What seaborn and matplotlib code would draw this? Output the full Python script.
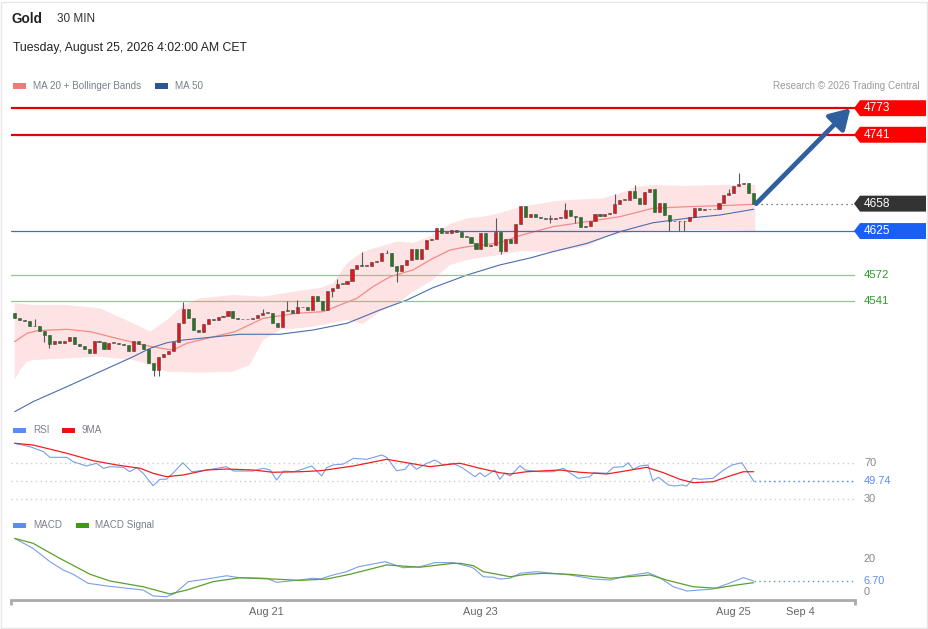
import numpy as np
import matplotlib
matplotlib.use("Agg")
import matplotlib.pyplot as plt
from matplotlib import transforms
from matplotlib.patches import Polygon, Rectangle
import seaborn as sns

sns.set_theme(style="white")
plt.rcParams["font.family"] = ["Liberation Sans", "DejaVu Sans"]

# ---- price data (30 min bars), open = previous close ----
first_open = 4526
closes = [4520, 4518, 4517, 4511, 4510, 4504, 4500, 4488.5, 4492.5, 4490,
          4492.5, 4497.5, 4488.5, 4487, 4482.5, 4478.5, 4493, 4491.5, 4482.5, 4490.5,
          4490.5, 4489, 4488, 4481, 4492.5, 4488.5, 4483, 4465.5, 4457.5, 4473.5,
          4477, 4481, 4491, 4514.5, 4531, 4520.5, 4505.5, 4503.5, 4513, 4519.5,
          4518, 4522, 4522.5, 4529, 4520, 4519, 4518.5, 4518.5, 4520, 4524,
          4526.5, 4526, 4514.5, 4509, 4528.5, 4530, 4526, 4533, 4534, 4530,
          4546.5, 4541, 4530, 4552.5, 4556, 4561, 4561, 4565, 4579, 4583.5,
          4583, 4583, 4588, 4589, 4598, 4599, 4583, 4577, 4583.5, 4590,
          4603, 4591, 4603, 4614, 4615, 4628.5, 4622.5, 4622.5, 4626.5, 4624,
          4618, 4617.5, 4611, 4603.5, 4622.5, 4606.5, 4608, 4624, 4601.5, 4615,
          4610.5, 4633, 4655, 4642.5, 4645.5, 4641.5, 4640.5, 4639.5, 4639.5, 4641,
          4641, 4650.5, 4643, 4641.5, 4630, 4631, 4637, 4645.5, 4643, 4645.5,
          4647, 4657, 4662.5, 4662.5, 4673, 4664.5, 4657, 4671.5, 4675.5, 4647.5,
          4659, 4644.5, 4636.5, 4637.5, 4636.5, 4636.5, 4641.5, 4652.5, 4650.5, 4651,
          4651, 4651.5, 4658.5, 4668.5, 4670.5, 4679.5, 4681.5, 4683, 4670.5, 4658]
wick_high = {4: 4519, 7: 4499.7, 34: 4539.9, 50: 4531, 55: 4541, 57: 4541.9,
             65: 4566.8, 70: 4600.1, 75: 4602.2, 97: 4640.3, 108: 4644.3,
             111: 4659.1, 121: 4669.3, 125: 4680.5, 144: 4675.3, 146: 4695.3}
wick_low = {6: 4491, 7: 4483.7, 28: 4450.3, 29: 4450.3, 64: 4545.2, 77: 4564,
            98: 4597.3, 108: 4634.3, 113: 4634.3, 132: 4625, 134: 4625, 135: 4625}

# ---- overlays ----
ma20_idx = [0, 2.5, 4.5, 10.5, 15.2, 20.6, 25.9, 30.7, 31.9, 34.7, 38.8, 44.4, 50.1,
            56.9, 62.2, 65.6, 69.0, 72.2, 75.7, 80.3, 84.1, 87.8, 91.2, 94.4, 97.8,
            101.9, 108.5, 115.4, 122.0, 128.7, 135.5, 142.2, 149.0]
ma20 = [4491.7, 4501.8, 4504.9, 4506.6, 4503.7, 4495.7, 4487.7, 4482.5, 4481.6, 4489.7,
        4495.7, 4503.7, 4519.8, 4525.9, 4527.8, 4535.9, 4543.9, 4557.9, 4570.0, 4578.1,
        4591.3, 4602.2, 4606.1, 4608.2, 4610.9, 4619.6, 4630.2, 4636.3, 4642.3, 4652.4,
        4654.3, 4655.5, 4657.2]
bb_up_idx = [0, 3.7, 10.5, 17.2, 23.9, 27.3, 30.7, 34.0, 37.4, 44.0, 50.1, 57.0, 61.6,
             64.2, 67.0, 70.2, 73.6, 77.1, 80.3, 83.7, 87.8, 91.2, 94.4, 97.8, 101.9,
             108.5, 112.0, 118.6, 122.0, 125.5, 128.7, 135.5, 142.2, 149.3]
bb_up = [4537.9, 4535.9, 4535.9, 4531.9, 4513.8, 4503.7, 4517.8, 4535.9, 4543.9, 4547.9,
         4545.9, 4552.7, 4556.4, 4562.0, 4586.1, 4600.1, 4606.1, 4612.2, 4610.6, 4618.2,
         4633.5, 4640.3, 4642.3, 4646.4, 4654.0, 4660.4, 4662.4, 4664.4, 4670.5, 4678.4,
         4680.5, 4679.3, 4680.5, 4680.5]
bb_lo_idx = [0, 1.1, 2.5, 3.7, 10.5, 17.2, 23.9, 27.3, 30.7, 37.4, 44.0, 47.4, 50.1,
             53.5, 60.1, 67.0, 70.2, 73.6, 77.1, 80.3, 83.7, 87.8, 91.2, 94.4, 97.8,
             101.9, 108.5, 115.4, 119.7, 125.8, 135.5, 142.2, 149.3]
bb_lo = [4445.5, 4457.6, 4467.5, 4469.6, 4471.6, 4473.6, 4469.6, 4463.6, 4455.5, 4454.3,
         4455.5, 4463.6, 4493.7, 4505.7, 4509.7, 4517.8, 4513.0, 4527.8, 4537.9, 4551.9,
         4563.6, 4584.1, 4590.1, 4593.4, 4596.1, 4601.0, 4599.7, 4607.0, 4619.0, 4625.1,
         4626.3, 4626.3, 4625.1]
ma50_idx = [0, 3.7, 10.5, 17.2, 23.9, 27.3, 30.7, 34.0, 37.4, 45.4, 53.5, 60.1, 67.0,
            73.6, 79.1, 84.2, 91.2, 97.8, 103.9, 108.5, 115.4, 122.0, 128.7, 135.5,
            142.2, 149.0]
ma50 = [4407.3, 4419.4, 4437.4, 4455.5, 4473.6, 4483.7, 4490.4, 4493.7, 4495.7, 4500.6,
        4500.6, 4505.7, 4513.8, 4529.8, 4541.9, 4556.4, 4572.0, 4584.1, 4592.5, 4600.1,
        4610.2, 4624.2, 4635.0, 4640.3, 4644.3, 4651.2]

resistances = [4773, 4741]
pivot = 4625
supports = [4572, 4541]
last_price = 4658

# ---- RSI ----
rsi_idx = [0, 3.1, 5.8, 7.1, 10.5, 11.8, 14.5, 16.5, 17.9, 19.2, 21.9, 23.2, 24.6, 25.9,
           27.9, 29.3, 30.6, 32.0, 33.9, 35.7, 38.7, 42.7, 44.1, 48.1, 50.1, 51.5, 52.8,
           54.2, 56.2, 57.5, 59.9, 61.9, 62.9, 64.2, 66.3, 68.3, 71.0, 74.0, 75.0, 77.0,
           78.7, 79.7, 81.0, 83.1, 84.7, 86.4, 88.4, 90.4, 92.8, 93.8, 94.8, 96.8, 97.8,
           98.8, 99.9, 101.9, 102.9, 105.9, 108.6, 110.6, 111.9, 113.6, 116.0, 116.7,
           119.4, 120.7, 122.7, 123.7, 124.7, 126.1, 127.7, 128.6, 129.8, 131.8, 133.1,
           134.5, 135.5, 136.8, 138.2, 140.8, 142.9, 144.6, 146.6, 149.0]
rsi = [91.9, 88.1, 82.6, 76.3, 76.3, 71.4, 66.7, 69.7, 64.1, 65.9, 65.2, 60.3, 64.8, 58.6,
       44.8, 51.9, 51.9, 59.2, 70.3, 60.3, 62.2, 65.9, 61.1, 61.1, 64.1, 62.2, 51.1, 61.1,
       60.3, 62.2, 66.7, 55.6, 64.8, 67.8, 68.9, 75.2, 74.1, 78.9, 76.3, 61.4, 63.0, 69.7,
       63.0, 69.7, 73.3, 67.8, 69.7, 64.1, 54.8, 59.2, 54.8, 62.2, 51.9, 58.6, 55.6, 67.0,
       62.2, 60.3, 60.3, 64.1, 59.2, 53.0, 54.8, 59.2, 58.6, 65.2, 65.9, 70.3, 63.0, 66.7,
       67.8, 50.3, 54.1, 45.6, 44.4, 45.6, 44.4, 53.0, 51.9, 53.0, 62.2, 67.8, 70.3, 49.74]
rsi_ma_idx = [0, 3.7, 10.5, 15.8, 20.6, 25.3, 27.9, 30.6, 34.0, 38.7, 42.7, 48.1, 52.1,
              57.5, 61.6, 68.3, 75.0, 79.7, 83.7, 87.8, 89.8, 93.8, 97.8, 99.9, 103.2,
              109.9, 113.9, 119.4, 123.4, 127.4, 130.8, 134.1, 136.8, 140.8, 144.2, 146.9, 149.0]
rsi_ma = [91.9, 90.0, 80.8, 72.6, 67.8, 64.1, 58.6, 54.8, 56.7, 62.2, 63.3, 62.2, 59.7,
          60.3, 61.4, 66.7, 74.1, 69.7, 65.9, 68.6, 69.7, 64.1, 59.2, 57.8, 60.3, 62.2,
          59.7, 57.8, 61.4, 65.2, 59.2, 51.9, 48.1, 49.2, 55.6, 60.3, 60.3]

# ---- MACD ----
macd_idx = [0, 3.7, 7.1, 9.8, 11.8, 14.8, 18.5, 22.6, 25.9, 27.9, 30.6, 32.3, 35.0, 38.7,
            42.7, 45.4, 50.8, 52.8, 57.5, 60.2, 61.6, 64.2, 66.9, 69.3, 74.7, 78.3, 81.7,
            84.7, 88.4, 89.8, 91.8, 92.5, 94.5, 96.5, 97.8, 99.9, 101.9, 105.2, 111.9,
            116.7, 120.1, 123.4, 127.7, 130.1, 132.8, 135.5, 140.8, 143.5, 146.9, 149.0]
macd = [32.7, 26.6, 18.5, 13.4, 10.8, 5.3, 3.7, 2.3, 1.2, -2.4, -2.9, -0.8, 6.3, 7.9, 9.9,
        8.7, 8.4, 5.9, 7.3, 8.4, 7.9, 10.4, 12.4, 15.4, 18.5, 14.8, 15.4, 17.9, 17.9, 16.9,
        15.4, 14.5, 9.3, 9.0, 7.9, 8.4, 11.4, 12.4, 10.4, 7.9, 7.3, 9.8, 11.8, 8.7, 3.2,
        0.6, 1.8, 4.7, 8.7, 6.70]
signal_idx = [0, 3.7, 9.1, 15.2, 19.2, 25.9, 31.3, 34.7, 40.0, 45.4, 52.1, 57.5, 62.9,
              67.6, 75.0, 81.7, 88.4, 89.8, 92.5, 94.5, 99.9, 103.2, 106.6, 111.9, 120.1,
              128.1, 131.4, 136.8, 141.5, 145.6, 149.0]
signal = [32.7, 29.7, 20.5, 10.8, 6.7, 3.2, -1.2, 1.2, 6.3, 8.7, 7.9, 7.1, 7.9, 10.8,
          16.5, 15.1, 17.5, 17.5, 16.0, 12.4, 9.3, 10.8, 11.4, 10.8, 8.4, 10.4, 7.3, 3.2,
          2.3, 4.3, 5.7]

tick_pos = [50.7, 93.8, 144.8, 158.5]
tick_labels = ["Aug 21", "Aug 23", "Aug 25", "Sep 4"]

# ---- layout ----
W, H = 929, 629
fig = plt.figure(figsize=(W / 100, H / 100), dpi=100)
fig.patch.set_facecolor("white")


def rect(x0, y0, x1, y1):
    return [x0 / W, 1 - y1 / H, (x1 - x0) / W, (y1 - y0) / H]


X0, X1 = -0.746, 169.42
ax = fig.add_axes(rect(11, 95, 855, 420))
ax_rsi = fig.add_axes(rect(11, 437, 855, 505))
ax_macd = fig.add_axes(rect(11, 535, 855, 600))
for a in (ax, ax_rsi, ax_macd):
    a.set_xlim(X0, X1)
    a.set_facecolor("none")
    for s in a.spines.values():
        s.set_visible(False)
    a.set_yticks([])
    a.set_xticks([])
    a.set_xlabel("")
    a.set_ylabel("")
ax.set_ylim(4397.3, 4788.9)
ax_rsi.set_ylim(23.33, 98.89)
ax_macd.set_ylim(-4.88, 34.76)


def fx(px):
    return (px - 11) / 844


# ---- main panel ----
ax.fill(np.r_[bb_up_idx, bb_lo_idx[::-1]], np.r_[bb_up, bb_lo[::-1]],
        color="#fde3e3", lw=0, zorder=1)
sns.lineplot(x=ma20_idx, y=ma20, ax=ax, color="#f58a8a", linewidth=0.9, zorder=2)
sns.lineplot(x=ma50_idx, y=ma50, ax=ax, color="#4a6db0", linewidth=0.8, zorder=2)

for lvl in resistances:
    ax.axhline(lvl, color="#e60000", lw=1.6, zorder=2)
ax.axhline(pivot, color="#4169d0", lw=0.9, zorder=2)
for lvl in supports:
    ax.axhline(lvl, color="#93c493", lw=0.9, zorder=2)

idx = np.arange(len(closes))
c_arr = np.array(closes, dtype=float)
o_arr = np.r_[first_open, c_arr[:-1]]
highs = np.maximum(o_arr, c_arr)
lows = np.minimum(o_arr, c_arr)
for k, v in wick_high.items():
    highs[k] = max(highs[k], v)
for k, v in wick_low.items():
    lows[k] = min(lows[k], v)
up = c_arr >= o_arr
ax.vlines(idx, lows, highs, color="#5a5a5a", lw=0.8, zorder=3)
ax.bar(idx, np.maximum(np.abs(c_arr - o_arr), 1.0), bottom=np.minimum(o_arr, c_arr),
       width=0.62, color=np.where(up, "#e3161b", "#1f7a1f"), edgecolor="#4a4a4a",
       linewidth=0.4, zorder=4)

ax.hlines(last_price, idx[-1] + 0.5, X1, color="#555555", lw=0.9,
          linestyles=(0, (1, 3)), zorder=2)
ax.annotate("", xy=(168.5, resistances[0]), xytext=(idx[-1] + 0.5, last_price),
            arrowprops=dict(arrowstyle="-|>,head_length=1.0,head_width=0.6",
                            color="#2e5f9e", lw=3.4, shrinkA=0, shrinkB=0),
            annotation_clip=False, zorder=6)

tr = transforms.blended_transform_factory(ax.transAxes, ax.transData)
half = 9.6


def tag(a, t, level, text, fc):
    poly = Polygon([(fx(854), level), (fx(860), level + half), (fx(926), level + half),
                    (fx(926), level - half), (fx(860), level - half)],
                   closed=True, transform=t, facecolor=fc, edgecolor="none",
                   clip_on=False, zorder=7)
    a.add_patch(poly)
    a.text(fx(864), level, text, transform=t, color="white", fontsize=8.6,
           va="center", ha="left", clip_on=False, zorder=8)


for lvl in resistances:
    tag(ax, tr, lvl, str(lvl), "#ff0000")
tag(ax, tr, last_price, str(last_price), "#333333")
tag(ax, tr, pivot, str(pivot), "#1a5ff5")
for lvl in supports:
    ax.text(fx(864), lvl, str(lvl), transform=tr, color="#2e9a2e", fontsize=8.2,
            va="center", ha="left", clip_on=False)

# ---- RSI panel ----
ax_rsi.hlines([70, 50, 30], X0, X1, color="#cccccc", lw=1.0, linestyles=(0, (1, 2.5)))
sns.lineplot(x=rsi_idx, y=rsi, ax=ax_rsi, color="#7b9ee8", linewidth=0.8)
sns.lineplot(x=rsi_ma_idx, y=rsi_ma, ax=ax_rsi, color="#ee2020", linewidth=0.9)
ax_rsi.hlines(rsi[-1], rsi_idx[-1], X1, color="#5b8def", lw=1.0, linestyles=(0, (1, 2.5)))
tr_r = transforms.blended_transform_factory(ax_rsi.transAxes, ax_rsi.transData)
for v, txt, col in [(70, "70", "#888888"), (rsi[-1], f"{rsi[-1]:.2f}", "#5b8def"),
                    (30, "30", "#888888")]:
    ax_rsi.text(fx(864), v, txt, transform=tr_r, color=col, fontsize=7.9,
                va="center", ha="left", clip_on=False)

# ---- MACD panel ----
sns.lineplot(x=macd_idx, y=macd, ax=ax_macd, color="#7b9ee8", linewidth=0.8)
sns.lineplot(x=signal_idx, y=signal, ax=ax_macd, color="#5aa02c", linewidth=0.9)
ax_macd.hlines(macd[-1], macd_idx[-1], X1, color="#5b8def", lw=1.0, linestyles=(0, (1, 2.5)))
tr_m = transforms.blended_transform_factory(ax_macd.transAxes, ax_macd.transData)
for v, txt, col in [(20, "20", "#888888"), (macd[-1], f"{macd[-1]:.2f}", "#5b8def"),
                    (0, "0", "#888888")]:
    ax_macd.text(fx(864), v, txt, transform=tr_m, color=col, fontsize=7.9,
                 va="center", ha="left", clip_on=False)
ax_macd.spines["bottom"].set_visible(True)
ax_macd.spines["bottom"].set_color("#aaaaaa")
ax_macd.spines["bottom"].set_linewidth(2)
for xe in (0, 1):
    ax_macd.plot([xe, xe], [0, -0.08], transform=ax_macd.transAxes, color="#aaaaaa",
                 lw=2, clip_on=False, solid_capstyle="butt")
ax_macd.set_xticks(tick_pos, tick_labels)
ax_macd.tick_params(axis="x", length=0, pad=5, labelsize=7.9, labelcolor="#666666")

# ---- header / legends ----
def ftxt(x, y, s, **kw):
    fig.text(x / W, 1 - y / H, s, va="center", ha=kw.pop("ha", "left"), **kw)


def patch(x, y, color):
    fig.add_artist(Rectangle((x / W, 1 - (y + 2.5) / H), 13 / W, 5 / H,
                             transform=fig.transFigure, color=color, lw=0))


ftxt(11.5, 19, "Gold", fontsize=9.8, fontweight="bold", color="#222222")
ftxt(57, 19, "30 MIN", fontsize=8.5, color="#333333")
ftxt(13, 48.5, "Tuesday, August 25, 2026 4:02:00 AM CET", fontsize=8.8, color="#222222")

legend_col = "#7a7f8c"
patch(13, 86, "#f47a7a")
ftxt(33, 86, "MA 20 + Bollinger Bands", fontsize=7.1, color=legend_col)
patch(155, 86, "#2c5597")
ftxt(175, 86, "MA 50", fontsize=7.1, color=legend_col)
ftxt(920, 86, "Research \u00a9 2026 Trading Central", fontsize=7.1, color="#9a9a9a", ha="right")

patch(13, 430, "#5b8def")
ftxt(33, 430, "RSI", fontsize=7.1, color=legend_col)
patch(62, 430, "#ee1111")
ftxt(82, 430, "9MA", fontsize=7.1, color=legend_col)

patch(13, 525, "#5b8def")
ftxt(33, 525, "MACD", fontsize=7.1, color=legend_col)
patch(76, 525, "#3d9a16")
ftxt(95, 525, "MACD Signal", fontsize=7.1, color=legend_col)

fig.add_artist(Rectangle((1 / W, 1 / H), 926 / W, 626 / H, transform=fig.transFigure,
                         fill=False, edgecolor="#e6e6e6", lw=1))

fig.savefig("out.png", dpi=100, facecolor="white")
